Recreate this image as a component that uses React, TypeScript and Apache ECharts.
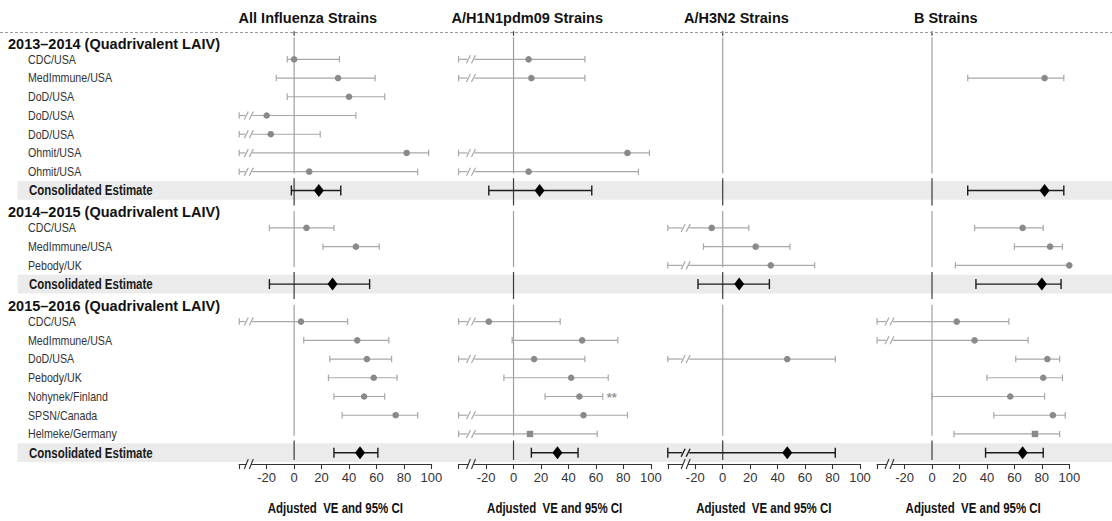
import React, { useEffect, useRef } from "react";
import * as echarts from "echarts";

// ---------- DATA ----------
const panelTitles = ["All Influenza Strains", "A/H1N1pdm09 Strains", "A/H3N2 Strains", "B Strains"];
const seasonHeaders = [
  "2013–2014 (Quadrivalent LAIV)",
  "2014–2015 (Quadrivalent LAIV)",
  "2015–2016 (Quadrivalent LAIV)",
];
const studies2013 = ["CDC/USA", "MedImmune/USA", "DoD/USA", "DoD/USA", "DoD/USA", "Ohmit/USA", "Ohmit/USA"];
const studies2014 = ["CDC/USA", "MedImmune/USA", "Pebody/UK"];
const studies2015 = ["CDC/USA", "MedImmune/USA", "DoD/USA", "Pebody/UK", "Nohynek/Finland", "SPSN/Canada", "Helmeke/Germany"];
const consolidatedLabel = "Consolidated Estimate";
const xAxisName = "Adjusted  VE and 95% CI";
const xTicks = [-40, -20, 0, 20, 40, 60, 80, 100];

// [lower, estimate, upper]; lower = null -> lower bound beyond the axis (broken line)
type Est = [number | null, number, number] | null;

const allStrains2013: Est[] = [[-5, 0, 33], [-13, 32, 59], [-5, 40, 66], [null, -20, 45], [null, -17, 19], [null, 82, 98], [null, 11, 90]];
const allStrains2013Cons: Est = [-2, 18, 34];
const allStrains2014: Est[] = [[-18, 9, 29], [21, 45, 62], null];
const allStrains2014Cons: Est = [-18, 28, 55];
const allStrains2015: Est[] = [[null, 5, 39], [7, 46, 69], [26, 53, 71], [25, 58, 75], [29, 51, 66], [35, 74, 90], null];
const allStrains2015Cons: Est = [29, 48, 61];

const h1n1_2013: Est[] = [[null, 11, 52], [null, 13, 52], null, null, null, [null, 83, 99], [null, 11, 91]];
const h1n1_2013Cons: Est = [-18, 19, 57];
const h1n1_2014: Est[] = [null, null, null];
const h1n1_2014Cons: Est = null;
const h1n1_2015: Est[] = [[null, -18, 34], [-1, 50, 76], [null, 15, 52], [-7, 42, 69], [23, 48, 65], [null, 51, 83], [null, 12, 61]];
const h1n1_2015Cons: Est = [13, 32, 47];

const h3n2_2013: Est[] = [null, null, null, null, null, null, null];
const h3n2_2013Cons: Est = null;
const h3n2_2014: Est[] = [[null, -8, 19], [-14, 24, 49], [null, 35, 67]];
const h3n2_2014Cons: Est = [-18, 12, 34];
const h3n2_2015: Est[] = [null, null, [null, 47, 82], null, null, null, null];
const h3n2_2015Cons: Est = [null, 47, 82];

const bStrains2013: Est[] = [null, [26, 82, 96], null, null, null, null, null];
const bStrains2013Cons: Est = [26, 82, 96];
const bStrains2014: Est[] = [[31, 66, 81], [60, 86, 95], [17, 100, 100]];
const bStrains2014Cons: Est = [32, 80, 94];
const bStrains2015: Est[] = [[null, 18, 56], [null, 31, 70], [61, 84, 93], [40, 81, 95], [0, 57, 82], [45, 88, 97], [16, 75, 93]];
const bStrains2015Cons: Est = [39, 66, 81];

const squareMarkerStudies = ["Helmeke/Germany"];
const notes = [{ panel: 1, season: 2, study: 4, text: "**" }];
// position of the axis break (value units) per panel
const breakPositions = [-33, -31, -27, -31];

// ---------- LAYOUT / STYLE ----------
const W = 1112;
const H = 521;
const X_MIN = -40;
const X_MAX = 100;
const panelLefts = [239.2, 458.6, 667.8, 877.1];
const panelWidth = 192.2;
const rowH = 18.733;
const gridTop = 31.2;
const SANS = "'Liberation Sans', Arial, Helvetica, sans-serif";
const CONDENSE = 0.82;

const studyLists = [studies2013, studies2014, studies2015];
const panelData: [Est[], Est][][] = [
  [[allStrains2013, allStrains2013Cons], [allStrains2014, allStrains2014Cons], [allStrains2015, allStrains2015Cons]],
  [[h1n1_2013, h1n1_2013Cons], [h1n1_2014, h1n1_2014Cons], [h1n1_2015, h1n1_2015Cons]],
  [[h3n2_2013, h3n2_2013Cons], [h3n2_2014, h3n2_2014Cons], [h3n2_2015, h3n2_2015Cons]],
  [[bStrains2013, bStrains2013Cons], [bStrains2014, bStrains2014Cons], [bStrains2015, bStrains2015Cons]],
];

// rows
const rowKinds: string[] = [];
const rowLabels: string[] = [];
const headerRow: number[] = [];
const consRow: number[] = [];
const studyRow: number[][] = [];
seasonHeaders.forEach((h, s) => {
  headerRow.push(rowLabels.length);
  rowKinds.push("h");
  rowLabels.push(h);
  studyRow.push([]);
  studyLists[s].forEach((name) => {
    studyRow[s].push(rowLabels.length);
    rowKinds.push("s");
    rowLabels.push(name);
  });
  consRow.push(rowLabels.length);
  rowKinds.push("c");
  rowLabels.push(consolidatedLabel);
});
const nRows = rowLabels.length;
const gridHeight = nRows * rowH;
const rowKeys = rowLabels.map((_, i) => String(i));

function buildCiData(p: number) {
  const out: number[][] = [];
  const mk = (e: Est, row: number, cons: number, square: number, note: number) => {
    if (!e) return;
    const [lo, est, hi] = e;
    const broken = lo === null ? 1 : 0;
    out.push([est, row, broken ? X_MIN : (lo as number), hi, cons, broken, square, note]);
  };
  seasonHeaders.forEach((_, s) => {
    const [arr, cons] = panelData[p][s];
    studyLists[s].forEach((name, k) => {
      const note = notes.some((n) => n.panel === p && n.season === s && n.study === k) ? 1 : 0;
      mk(arr[k], studyRow[s][k], 0, squareMarkerStudies.includes(name) ? 1 : 0, note);
    });
    mk(cons, consRow[s], 1, 0, 0);
  });
  return out;
}

const makeCiRender = (p: number) => (params: any, api: any) => {
  const est = api.value(0);
  const row = api.value(1);
  const low = api.value(2);
  const high = api.value(3);
  const cons = api.value(4) === 1;
  const broken = api.value(5) === 1;
  const square = api.value(6) === 1;
  const hasNote = api.value(7) === 1;
  const pt = api.coord([est, row]);
  const xe = pt[0];
  const y = pt[1];
  const xl = api.coord([low, row])[0];
  const xh = api.coord([high, row])[0];
  const col = cons ? "#1c1c1c" : "#a8a8a8";
  const lw = cons ? 1.4 : 1.2;
  const cap = cons ? 5 : 3.2;
  const ch: any[] = [];
  const seg = (x1: number, x2: number) =>
    ch.push({ type: "line", shape: { x1, y1: y, x2, y2: y }, style: { stroke: col, lineWidth: lw } });
  const slash = (x: number) =>
    ch.push({ type: "line", shape: { x1: x - 2, y1: y + 4, x2: x + 2, y2: y - 4 }, style: { stroke: col, lineWidth: lw } });
  const capAt = (x: number) =>
    ch.push({ type: "line", shape: { x1: x, y1: y - cap, x2: x, y2: y + cap }, style: { stroke: col, lineWidth: lw } });
  if (broken) {
    const xb = api.coord([breakPositions[p], row])[0];
    seg(xl, xb - 3.5);
    slash(xb - 2.5);
    slash(xb + 2.5);
    seg(xb + 3.5, xh);
  } else {
    seg(xl, xh);
  }
  capAt(xl);
  capAt(xh);
  if (cons) {
    ch.push({
      type: "polygon",
      shape: { points: [[xe - 5, y], [xe, y - 6.5], [xe + 5, y], [xe, y + 6.5]] },
      style: { fill: "#000" },
    });
  } else if (square) {
    ch.push({ type: "rect", shape: { x: xe - 3.2, y: y - 3.2, width: 6.4, height: 6.4 }, style: { fill: "#8a8a8a" } });
  } else {
    ch.push({ type: "circle", shape: { cx: xe, cy: y, r: 3.3 }, style: { fill: "#8a8a8a" } });
  }
  if (hasNote) {
    const n = notes.find((q) => q.panel === p);
    ch.push({
      type: "text",
      x: xh + 4,
      y: y + 1,
      style: { text: n ? n.text : "", fill: "#9a9a9a", font: `bold 13px ${SANS}`, align: "left", verticalAlign: "middle" },
    });
  }
  return { type: "group", children: ch };
};

const zeroRender = (params: any, api: any) => {
  const hr = api.value(1);
  const cr = api.value(2);
  const first = api.value(3) === 1;
  const last = api.value(4) === 1;
  const cs = params.coordSys;
  const x = api.coord([0, hr])[0];
  const rh = api.size([0, 1])[1];
  const yh = api.coord([0, hr])[1];
  const yc = api.coord([0, cr])[1];
  const top = first ? cs.y + 6 : yh + 0.1 * rh;
  const darkBottom = last ? cs.y + cs.height - 2 : yc + 0.8 * rh;
  const children: any[] = [
    { type: "line", shape: { x1: x, y1: top, x2: x, y2: yc - 0.9 * rh }, style: { stroke: "#a0a0a0", lineWidth: 1.2 } },
    { type: "line", shape: { x1: x, y1: yc - 0.65 * rh, x2: x, y2: darkBottom }, style: { stroke: "#3a3a3a", lineWidth: 1.2 } },
  ];
  if (first) {
    children.push({ type: "line", shape: { x1: x, y1: cs.y, x2: x, y2: cs.y + 4.5 }, style: { stroke: "#3a3a3a", lineWidth: 1.2 } });
  }
  return { type: "group", children };
};

const AXIS_OFFSET = 2;
const axisBreakRender = (params: any, api: any) => {
  const cs = params.coordSys;
  const y = cs.y + cs.height + AXIS_OFFSET;
  const xb = api.coord([api.value(0), 0])[0];
  return {
    type: "group",
    children: [
      { type: "rect", shape: { x: xb - 2.5, y: y - 1.5, width: 5, height: 3 }, style: { fill: "#fff" } },
      { type: "line", shape: { x1: xb - 4.5, y1: y + 5, x2: xb - 0.5, y2: y - 5 }, style: { stroke: "#333", lineWidth: 1.1 } },
      { type: "line", shape: { x1: xb + 0.5, y1: y + 5, x2: xb + 4.5, y2: y - 5 }, style: { stroke: "#333", lineWidth: 1.1 } },
    ],
  };
};

const bandRender = (params: any, api: any) => {
  const cs = params.coordSys;
  const y = api.coord([0, api.value(1)])[1];
  const rh = api.size([0, 1])[1];
  return { type: "rect", shape: { x: cs.x, y: y - rh / 2, width: cs.width, height: rh }, style: { fill: "#ebebeb" } };
};

const labelRender = (params: any, api: any) => {
  const cs = params.coordSys;
  const i = api.value(1);
  const kind = rowKinds[i];
  const y = api.coord([0, i])[1];
  if (kind === "h") {
    return {
      type: "text",
      x: cs.x + 8,
      y: y + 3,
      style: { text: rowLabels[i], fill: "#111", font: `bold 14.5px ${SANS}`, align: "left", verticalAlign: "middle" },
    };
  }
  const bold = kind === "c";
  return {
    type: "text",
    x: cs.x + (bold ? 29 : 28),
    y: y,
    scaleX: CONDENSE,
    style: {
      text: rowLabels[i],
      fill: bold ? "#1a1a1a" : "#333",
      font: bold ? `bold 14px ${SANS}` : `13px ${SANS}`,
      align: "left",
      verticalAlign: "middle",
    },
  };
};

function buildOption() {
  const grid: any[] = [];
  const xAxis: any[] = [];
  const yAxis: any[] = [];
  const series: any[] = [];
  const scale = panelWidth / (X_MAX - X_MIN);

  panelLefts.forEach((left, p) => {
    grid.push({ left, top: gridTop, width: panelWidth, height: gridHeight });
    xAxis.push({
      type: "value",
      gridIndex: p,
      min: X_MIN,
      max: X_MAX,
      interval: 20,
      offset: AXIS_OFFSET,
      splitLine: { show: false },
      axisLine: { show: true, lineStyle: { color: "#333", width: 1.1 } },
      axisTick: { show: true, length: 5, lineStyle: { color: "#333", width: 1.1 } },
      axisLabel: {
        margin: 7,
        fontFamily: SANS,
        fontSize: 13,
        color: "#333",
        formatter: (v: number) => (xTicks.includes(v) && v !== X_MIN ? String(v) : ""),
      },
    });
    yAxis.push({ type: "category", gridIndex: p, data: rowKeys, inverse: true, show: false });
    series.push({
      type: "custom",
      name: panelTitles[p] + " zero",
      xAxisIndex: p,
      yAxisIndex: p,
      z: 3,
      renderItem: zeroRender,
      data: seasonHeaders.map((_, s) => [0, headerRow[s], consRow[s], s === 0 ? 1 : 0, s === seasonHeaders.length - 1 ? 1 : 0]),
      encode: { x: 0, y: 1 },
      silent: true,
    });
    series.push({
      type: "custom",
      name: panelTitles[p],
      xAxisIndex: p,
      yAxisIndex: p,
      z: 5,
      clip: false,
      renderItem: makeCiRender(p),
      data: buildCiData(p),
      encode: { x: 0, y: 1 },
      silent: true,
    });
    series.push({
      type: "custom",
      name: panelTitles[p] + " axis break",
      xAxisIndex: p,
      yAxisIndex: p,
      z: 6,
      clip: false,
      renderItem: axisBreakRender,
      data: [[breakPositions[p], 0]],
      encode: { x: 0, y: 1 },
      silent: true,
    });
  });

  // background bands
  grid.push({ left: 17.5, right: 0, top: gridTop, height: gridHeight });
  xAxis.push({ type: "value", gridIndex: 4, min: 0, max: 1, show: false });
  yAxis.push({ type: "category", gridIndex: 4, data: rowKeys, inverse: true, show: false });
  series.push({
    type: "custom",
    name: "bands",
    xAxisIndex: 4,
    yAxisIndex: 4,
    z: 0,
    renderItem: bandRender,
    data: consRow.map((r) => [0, r]),
    encode: { x: 0, y: 1 },
    silent: true,
  });

  // row labels
  grid.push({ left: 0, width: 230, top: gridTop, height: gridHeight });
  xAxis.push({ type: "value", gridIndex: 5, min: 0, max: 1, show: false });
  yAxis.push({ type: "category", gridIndex: 5, data: rowKeys, inverse: true, show: false });
  series.push({
    type: "custom",
    name: "row labels",
    xAxisIndex: 5,
    yAxisIndex: 5,
    z: 4,
    clip: false,
    renderItem: labelRender,
    data: rowLabels.map((_, i) => [0, i]),
    encode: { x: 0, y: 1 },
    silent: true,
  });

  const graphic: any[] = [
    {
      type: "line",
      shape: { x1: 0, y1: 32.5, x2: W, y2: 32.5 },
      style: { stroke: "#9a9a9a", lineWidth: 1, lineDash: [3, 2] },
      z: 10,
    },
  ];
  panelLefts.forEach((left, p) => {
    graphic.push({
      type: "text",
      x: left + (10 - X_MIN) * scale,
      y: 18,
      style: {
        text: panelTitles[p],
        fill: "#111",
        font: `bold 14.5px ${SANS}`,
        align: "center",
        verticalAlign: "middle",
      },
    });
    graphic.push({
      type: "text",
      x: left + panelWidth / 2,
      y: 508,
      scaleX: CONDENSE,
      style: {
        text: xAxisName,
        fill: "#111",
        font: `bold 14px ${SANS}`,
        align: "center",
        verticalAlign: "middle",
      },
    });
  });

  return { animation: false, backgroundColor: "#fff", grid, xAxis, yAxis, series, graphic };
}

export default function App() {
  const ref = useRef<HTMLDivElement>(null);
  useEffect(() => {
    document.body.style.margin = "0";
    if (!ref.current) return;
    const chart = echarts.init(ref.current, undefined, { renderer: "svg" });
    chart.setOption(buildOption() as any);
    return () => chart.dispose();
  }, []);
  return <div ref={ref} style={{ width: W, height: H }} />;
}
